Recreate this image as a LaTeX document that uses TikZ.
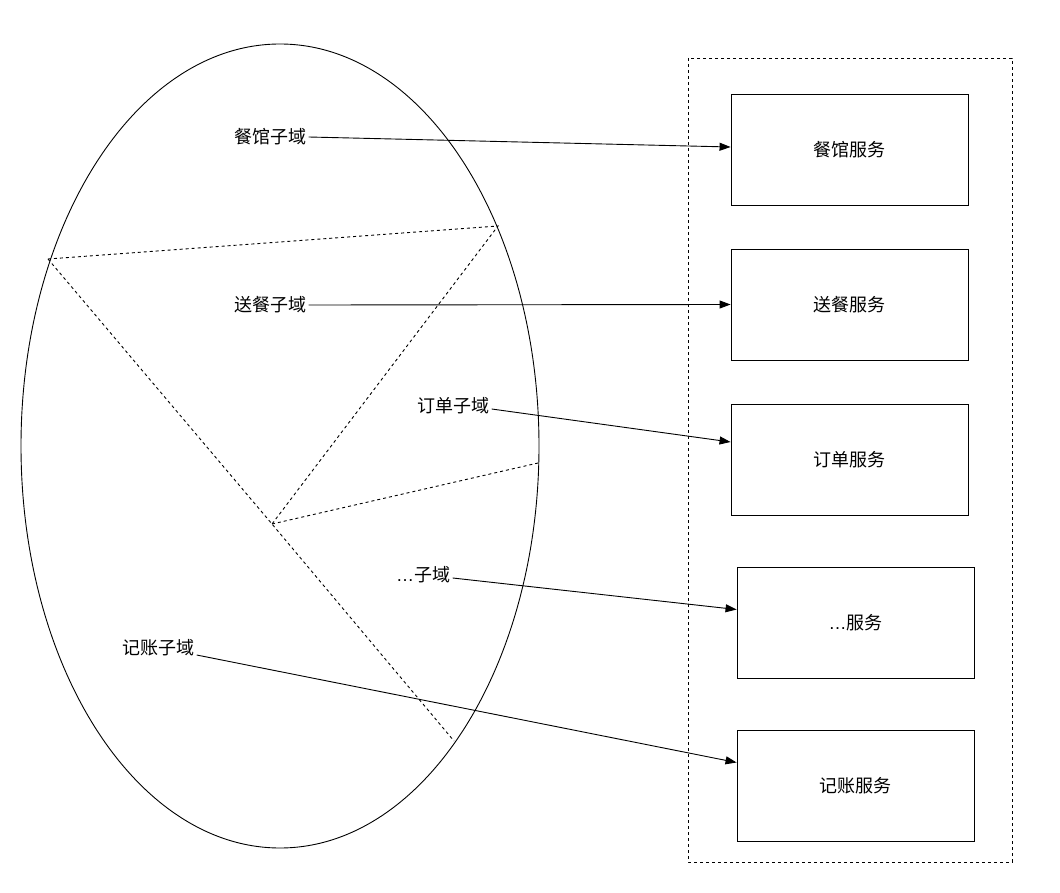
\documentclass[tikz,border=0pt]{standalone}
\usepackage{fontspec}
\newfontfamily\cjk{Noto Sans CJK SC}
\newfontfamily\lat{Liberation Sans}
\usetikzlibrary{arrows.meta}

\tikzset{
  dom/.style={font=\cjk\fontsize{18}{21}\selectfont,inner sep=2.5pt},
  svc/.style={draw,line width=0.9pt,minimum width=237pt,minimum height=111pt,font=\cjk\fontsize{18}{21}\selectfont},
  link/.style={line width=0.9pt,-{Triangle[length=11pt,width=8pt]}},
  cut/.style={line width=0.9pt,dash pattern=on 3pt off 3pt}
}

\begin{document}
\begin{tikzpicture}[x=1pt,y=-1pt]
    \useasboundingbox (0,0) rectangle (1060,893);
    \draw [line width=0.9pt] (280,446) ellipse [x radius=259, y radius=402]; % domain
    \draw [cut] (688,58) rectangle (1012,862); % services

    \coordinate (pl) at (48,259); \coordinate (pt) at (498,226); \coordinate (pm) at (272,524);
    \coordinate (pr) at (538,463); \coordinate (pb) at (454,741);
    \draw [cut] (pl)--(pt)--(pm); \draw [cut] (pl)--(pm)--(pb); \draw [cut] (pm)--(pr); % boundaries

    \node [dom] (d1) at (270,137) {餐馆子域};
    \node [dom] (d2) at (270,305) {送餐子域};
    \node [dom] (d3) at (453,406) {订单子域};
    \node [dom] (d4) at (423,575) {{\lat\ldots}子域};
    \node [dom] (d5) at (158,648) {记账子域};

    \node [svc] (s1) at (849.5,149.5) {餐馆服务};
    \node [svc] (s2) at (849.5,304.5) {送餐服务};
    \node [svc] (s3) at (849.5,459.5) {订单服务};
    \node [svc] (s4) at (855.5,622.5) {{\lat\ldots}服务};
    \node [svc] (s5) at (855.5,785.5) {记账服务};

    \draw [link] (d1.east) -- ([yshift=2.5pt]s1.west);
    \draw [link] (d2.east) -- (s2.west);
    \draw [link] ([yshift=-3pt]d3.east) -- ([yshift=17.5pt]s3.west);
    \draw [link] ([yshift=-3pt]d4.east) -- ([yshift=13pt]s4.west);
    \draw [link] ([yshift=-7pt]d5.east) -- ([yshift=23pt]s5.west);
\end{tikzpicture}
\end{document}
